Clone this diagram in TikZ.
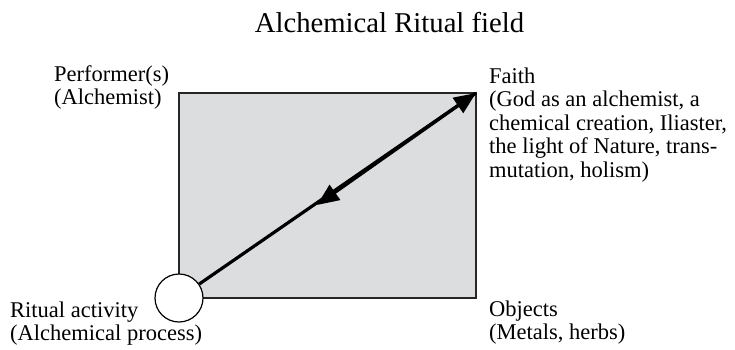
\documentclass[tikz,border=0pt]{standalone}
\usepackage{fontspec}
\setmainfont{Liberation Serif}
\usetikzlibrary{arrows.meta}
\definecolor{fieldgray}{RGB}{220,221,223}

\begin{document}
\begin{tikzpicture}[
  x=1pt, y=-1pt,
  lbl/.style={anchor=base west, align=left, inner sep=0pt, font=\fontsize{22.5}{23.5}\selectfont},
  link/.style={-{Triangle[length=22pt, width=18pt]}, line width=3.2pt},
]
  \useasboundingbox (0,0) rectangle (735,349);

  \node[font=\fontsize{28.7}{30}\selectfont, anchor=base] (title) at (389.5,32) {Alchemical Ritual field};

  \node[draw=black!85, line width=1.2pt, fill=fieldgray, outer sep=0pt, minimum width=297pt, minimum height=205pt, anchor=north west] (field) at (179,93) {};
  \node[circle, draw, line width=1.2pt, fill=white, minimum size=48pt, inner sep=0pt] (act) at (field.south west) {};
  \coordinate (faith) at (field.north east);
  \coordinate (mid) at (317,205);

  \draw[link] (act) -- (faith);
  \draw[link] (faith) -- (mid);

  % anchors sit on the last line of each label
  \node[lbl] (perf) at (54,104.5) {Performer(s)\\(Alchemist)};
  \node[lbl] (belief) at (489,177) {Faith\\(God as an alchemist, a\\chemical creation, Iliaster,\\the light of Nature, trans-\\mutation, holism)};
  \node[lbl] (obj) at (489,339.5) {Objects\\(Metals, herbs)};
  \node[lbl] (ritual) at (10,340.5) {Ritual activity\\(Alchemical process)};
\end{tikzpicture}
\end{document}
